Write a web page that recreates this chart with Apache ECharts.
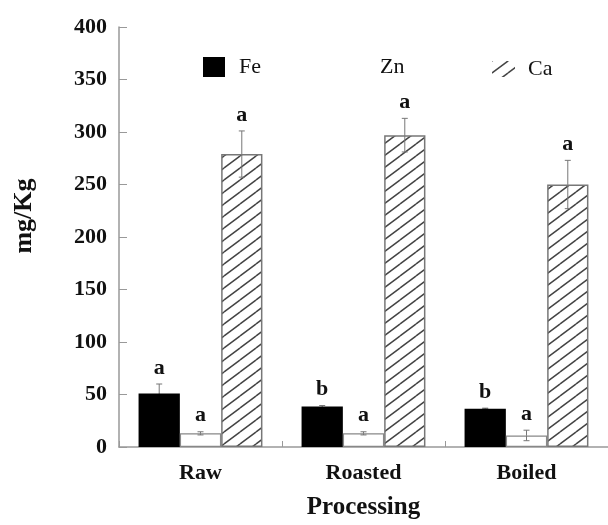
<!DOCTYPE html>
<html>
<head>
<meta charset="utf-8">
<script src="https://cdn.jsdelivr.net/npm/echarts@6/dist/echarts.min.js"></script>
<style>html,body{margin:0;padding:0;background:#fff}#c{width:608px;height:525px}</style>
</head>
<body>
<div id="c"></div>
<script>
var categories = ['Raw', 'Roasted', 'Boiled'];
var seriesNames = ['Fe', 'Zn', 'Ca'];
var feValues = [51, 38.5, 36.5];
var feErrors = [9, 1, 0.5];
var feLetters = ['a', 'b', 'b'];
var znValues = [13, 13, 11];
var znErrors = [1.5, 1.5, 5];
var znLetters = ['a', 'a', 'a'];
var caValues = [279, 297, 250];
var caErrors = [22, 16, 23];
var caLetters = ['a', 'a', 'a'];
var yTicks = [0, 50, 100, 150, 200, 250, 300, 350, 400];

var SERIF = '"Liberation Serif","Times New Roman",serif';
var CAT_GAP = 0.24;

function makeHatch() {
  var w = 16, h = 12;
  var cv = document.createElement('canvas');
  cv.width = w; cv.height = h;
  var ctx = cv.getContext('2d');
  ctx.fillStyle = '#fff';
  ctx.fillRect(0, 0, w, h);
  ctx.strokeStyle = '#444';
  ctx.lineWidth = 1.5;
  var offs = [[0,0],[w,0],[-w,0],[0,h],[0,-h]];
  offs.forEach(function (o) {
    ctx.beginPath();
    ctx.moveTo(0 + o[0], h + o[1]);
    ctx.lineTo(w + o[0], 0 + o[1]);
    ctx.stroke();
  });
  return cv;
}
var hatch = { image: makeHatch(), repeat: 'repeat' };

var errData = [];
[[feValues, feErrors, feLetters], [znValues, znErrors, znLetters], [caValues, caErrors, caLetters]].forEach(function (s, si) {
  for (var i = 0; i < categories.length; i++) {
    errData.push([i, si, s[0][i], s[1][i], s[2][i]]);
  }
});

var chart = echarts.init(document.getElementById('c'), null, { renderer: 'canvas' });
chart.setOption({
  animation: false,
  backgroundColor: '#fff',
  grid: { left: 119, right: -7, top: 27, bottom: 74, containLabel: false },
  legend: [
    { data: [{ name: 'Fe', icon: 'rect' }], left: 198, top: 51, itemWidth: 22, itemHeight: 20, itemStyle: { borderWidth: 0 },
      textStyle: { fontFamily: SERIF, fontSize: 22, color: '#111', padding: [0, 0, 0, 9] }, selectedMode: false },
    { data: [{ name: 'Zn', icon: 'rect' }], left: 343, top: 51, itemWidth: 22, itemHeight: 20, itemStyle: { color: '#fff', borderWidth: 0 },
      textStyle: { fontFamily: SERIF, fontSize: 22, color: '#111', padding: [0, 0, 0, 5] }, selectedMode: false },
    { data: [{ name: 'Ca', icon: 'rect' }], left: 487, top: 53, itemWidth: 23, itemHeight: 16, itemStyle: { borderWidth: 0 },
      textStyle: { fontFamily: SERIF, fontSize: 22, color: '#111', padding: [0, 0, 0, 8] }, selectedMode: false }
  ],
  xAxis: {
    type: 'category',
    data: categories,
    name: 'Processing',
    nameLocation: 'middle',
    nameGap: 48,
    nameTextStyle: { fontFamily: SERIF, fontWeight: 'bold', fontSize: 25, color: '#111' },
    axisLine: { lineStyle: { color: '#999', width: 1.5 } },
    axisTick: { show: true, inside: true, length: 6, lineStyle: { color: '#999' } },
    axisLabel: { fontFamily: SERIF, fontWeight: 'bold', fontSize: 22, color: '#111', margin: 15 },
    splitLine: { show: false }
  },
  yAxis: {
    type: 'value',
    min: yTicks[0],
    max: yTicks[yTicks.length - 1],
    interval: 50,
    axisLine: { show: true, lineStyle: { color: '#999', width: 1.5 } },
    axisTick: { show: true, inside: true, length: 8, lineStyle: { color: '#999' } },
    axisLabel: { fontFamily: SERIF, fontWeight: 'bold', fontSize: 22, color: '#111', margin: 12 },
    splitLine: { show: false }
  },
  graphic: [
    { type: 'text', x: 24, y: 216, rotation: Math.PI / 2,
      style: { text: 'mg/Kg', font: 'bold 26px ' + SERIF, fill: '#111', align: 'center', verticalAlign: 'middle' } }
  ],
  series: [
    { name: 'Fe', type: 'bar', data: feValues, barGap: '0%', barCategoryGap: (CAT_GAP * 100) + '%',
      itemStyle: { color: '#000', borderColor: '#000', borderWidth: 0 } },
    { name: 'Zn', type: 'bar', data: znValues, barGap: '0%', barCategoryGap: (CAT_GAP * 100) + '%',
      itemStyle: { color: '#fff', borderColor: '#888', borderWidth: 1.2 } },
    { name: 'Ca', type: 'bar', data: caValues, barGap: '0%', barCategoryGap: (CAT_GAP * 100) + '%',
      itemStyle: { color: hatch, borderColor: '#777', borderWidth: 1.5 } },
    { name: 'err', type: 'custom', z: 10, clip: false,
      data: errData,
      renderItem: function (params, api) {
        var cat = api.value(0), si = api.value(1), v = api.value(2), e = api.value(3);
        var letter = errData[params.dataIndex][4];
        var band = api.size([1, 0])[0];
        var bw = band * (1 - CAT_GAP) / 3;
        var base = api.coord([cat, v]);
        var x = base[0] + (si - 1) * bw;
        var yTop = api.coord([cat, v + e])[1];
        var yBot = api.coord([cat, v - e])[1];
        var yMid = base[1];
        var cap = 3;
        var st = { stroke: '#777', lineWidth: 1 };
        var stLow = { stroke: si === 0 ? '#000' : '#777', lineWidth: 1 };
        return {
          type: 'group',
          children: [
            { type: 'line', shape: { x1: x, y1: yTop, x2: x, y2: yMid }, style: st },
            { type: 'line', shape: { x1: x, y1: yMid, x2: x, y2: yBot }, style: stLow },
            { type: 'line', shape: { x1: x - cap, y1: yTop, x2: x + cap, y2: yTop }, style: st },
            { type: 'line', shape: { x1: x - cap, y1: yBot, x2: x + cap, y2: yBot }, style: stLow },
            { type: 'text', x: x, y: yTop - 5,
              style: { text: letter, font: 'bold 22px ' + SERIF, fill: '#111', align: 'center', verticalAlign: 'bottom' } }
          ]
        };
      }
    }
  ]
});
</script>
</body>
</html>
